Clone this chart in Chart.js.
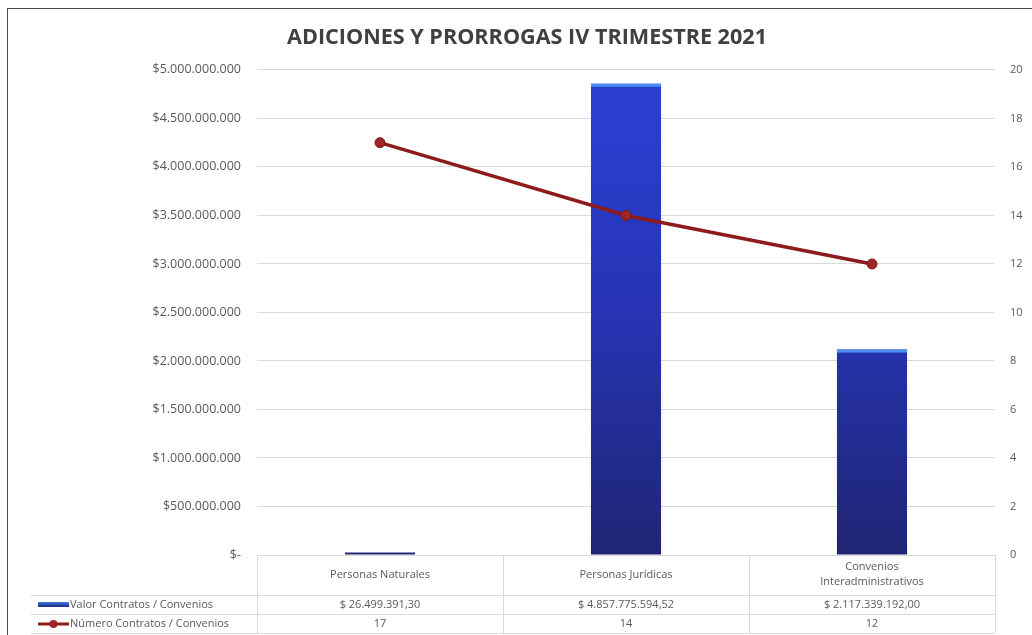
<!DOCTYPE html>
<html>
<head>
<meta charset="utf-8">
<script src="https://cdn.jsdelivr.net/npm/chart.js@4.4.1/dist/chart.umd.min.js"></script>
<style>
  html, body { margin: 0; padding: 0; background: #ffffff; overflow: hidden; }
  .wrap { position: relative; width: 1032px; height: 635px; }
  #myChart { position: absolute; left: 0; top: 0; }
  .frame { position: absolute; left: 7px; top: 8px; width: 1040px; height: 640px; border: 1px solid #4a4a4a; pointer-events: none; }
</style>
</head>
<body>
<div class="wrap">
  <canvas id="myChart" width="1032" height="635"></canvas>
  <div class="frame"></div>
</div>
<script>
// 데이터
const categories = ["Personas Naturales", "Personas Jurídicas", ["Convenios", "Interadministrativos"]];
const valorContratos = [26499391.30, 4857775594.52, 2117339192.00];
const numeroContratos = [17, 14, 12];
const valorLabels = ["$ 26.499.391,30", "$ 4.857.775.594,52", "$ 2.117.339.192,00"];
const seriesNames = ["Valor Contratos / Convenios", "Número Contratos / Convenios"];
const leftTicks = [0, 500000000, 1000000000, 1500000000, 2000000000, 2500000000, 3000000000, 3500000000, 4000000000, 4500000000, 5000000000];
const rightTicks = [0, 2, 4, 6, 8, 10, 12, 14, 16, 18, 20];

const textColor = "#595959";
const gridColor = "#d9d9d9";
const lineColor = "#8e1b1b";

// 달러 포맷 (점 구분)
function formatPeso(v) {
    if (v === 0) return "$-";
    return "$" + v.toLocaleString("de-DE");
}

// 막대 그라데이션
function barGradient(context) {
    const chart = context.chart;
    const area = chart.chartArea;
    if (!area) return "#2a3bc8";
    const g = chart.ctx.createLinearGradient(0, area.top, 0, area.bottom);
    g.addColorStop(0, "#2b40d6");
    g.addColorStop(0.5, "#2634b4");
    g.addColorStop(1, "#1f2573");
    return g;
}

// 하단 데이터 테이블 플러그인
const dataTablePlugin = {
    id: "dataTable",
    afterDraw(chart) {
        const ctx = chart.ctx;
        const area = chart.chartArea;
        const xScale = chart.scales.x;
        const n = categories.length;
        const colW = (area.right - area.left) / n;
        const top = area.bottom;
        const row1 = top + 40;
        const row2 = row1 + 19;
        const row3 = row2 + 19;
        const legendLeft = 31;

        ctx.save();
        ctx.strokeStyle = gridColor;
        ctx.lineWidth = 1;
        ctx.beginPath();
        // 가로선
        ctx.moveTo(area.left, top + 0.5); ctx.lineTo(area.right, top + 0.5);
        ctx.moveTo(legendLeft, row1 + 0.5); ctx.lineTo(area.right, row1 + 0.5);
        ctx.moveTo(legendLeft, row2 + 0.5); ctx.lineTo(area.right, row2 + 0.5);
        ctx.moveTo(legendLeft, row3 + 0.5); ctx.lineTo(area.right, row3 + 0.5);
        // 세로선
        for (let i = 0; i <= n; i++) {
            const x = Math.round(area.left + colW * i) + 0.5;
            ctx.moveTo(x, top); ctx.lineTo(x, row3);
        }
        ctx.stroke();

        ctx.fillStyle = textColor;
        ctx.font = "11px 'Open Sans'";
        ctx.textAlign = "center";
        ctx.textBaseline = "middle";
        categories.forEach((cat, i) => {
            const cx = xScale.getPixelForValue(i);
            if (Array.isArray(cat)) {
                ctx.fillText(cat[0], cx, top + 12);
                ctx.fillText(cat[1], cx, top + 27);
            } else {
                ctx.fillText(cat, cx, top + 20);
            }
            ctx.fillText(valorLabels[i], cx, row1 + 10);
            ctx.fillText(String(numeroContratos[i]), cx, row2 + 10);
        });

        // 범례 텍스트
        ctx.textAlign = "left";
        ctx.fillText(seriesNames[0], 70, row1 + 10);
        ctx.fillText(seriesNames[1], 70, row2 + 10);

        // 범례 아이콘 - 막대
        const kg = ctx.createLinearGradient(0, row1 + 7, 0, row1 + 12);
        kg.addColorStop(0, "#3f7fe0");
        kg.addColorStop(1, "#1f2a80");
        ctx.fillStyle = kg;
        ctx.fillRect(38, row1 + 7, 31, 5);

        // 범례 아이콘 - 선
        ctx.strokeStyle = lineColor;
        ctx.lineWidth = 3;
        ctx.beginPath();
        ctx.moveTo(38, row2 + 10); ctx.lineTo(69, row2 + 10);
        ctx.stroke();
        ctx.fillStyle = "#a02525";
        ctx.beginPath();
        ctx.arc(53.5, row2 + 10, 4, 0, Math.PI * 2);
        ctx.fill();
        ctx.restore();
    }
};

// 막대 상단 하이라이트
const barHighlightPlugin = {
    id: "barHighlight",
    afterDatasetDraw(chart, args) {
        if (args.index !== 1) return;
        const ctx = chart.ctx;
        const meta = chart.getDatasetMeta(1);
        ctx.save();
        meta.data.forEach(bar => {
            if (bar.base - bar.y < 10) return;
            ctx.fillStyle = "#4c8ff0";
            ctx.fillRect(bar.x - bar.width / 2, bar.y, bar.width, 3);
        });
        ctx.restore();
    }
};

const ctx = document.getElementById("myChart").getContext("2d");
new Chart(ctx, {
    data: {
        labels: categories,
        datasets: [
            {
                type: "line",
                label: seriesNames[1],
                data: numeroContratos,
                yAxisID: "y1",
                borderColor: lineColor,
                borderWidth: 3.5,
                pointRadius: 5,
                pointBackgroundColor: "#a02525",
                pointBorderColor: "#7a1515",
                pointBorderWidth: 1,
                tension: 0,
                order: 0
            },
            {
                type: "bar",
                label: seriesNames[0],
                data: valorContratos,
                yAxisID: "y",
                backgroundColor: barGradient,
                borderWidth: 0,
                barPercentage: 0.57,
                categoryPercentage: 0.5,
                order: 1
            }
        ]
    },
    options: {
        responsive: false,
        animation: false,
        layout: { padding: { top: 0, bottom: 80, left: 22, right: 0 } },
        plugins: {
            legend: { display: false },
            tooltip: { enabled: false },
            title: {
                display: true,
                text: "ADICIONES Y PRORROGAS IV TRIMESTRE 2021",
                color: "#404040",
                font: { family: "'Open Sans'", size: 21.6, weight: "bold" },
                padding: { top: 25, bottom: 19 }
            }
        },
        scales: {
            x: {
                display: false,
                offset: true
            },
            y: {
                position: "left",
                min: 0,
                max: 5000000000,
                afterBuildTicks(axis) { axis.ticks = leftTicks.map(v => ({ value: v })); },
                afterFit(axis) { axis.width = 235; },
                grid: { color: gridColor, drawTicks: false },
                border: { display: false },
                ticks: {
                    color: textColor,
                    padding: 16,
                    font: { family: "'Open Sans'", size: 12.5 },
                    callback: v => formatPeso(v)
                }
            },
            y1: {
                position: "right",
                min: 0,
                max: 20,
                afterBuildTicks(axis) { axis.ticks = rightTicks.map(v => ({ value: v })); },
                afterFit(axis) { axis.width = 37; },
                grid: { display: false, drawTicks: false },
                border: { display: false },
                ticks: {
                    color: textColor,
                    padding: 15,
                    font: { family: "'Open Sans'", size: 11 }
                }
            }
        }
    },
    plugins: [barHighlightPlugin, dataTablePlugin]
});
</script>
</body>
</html>
